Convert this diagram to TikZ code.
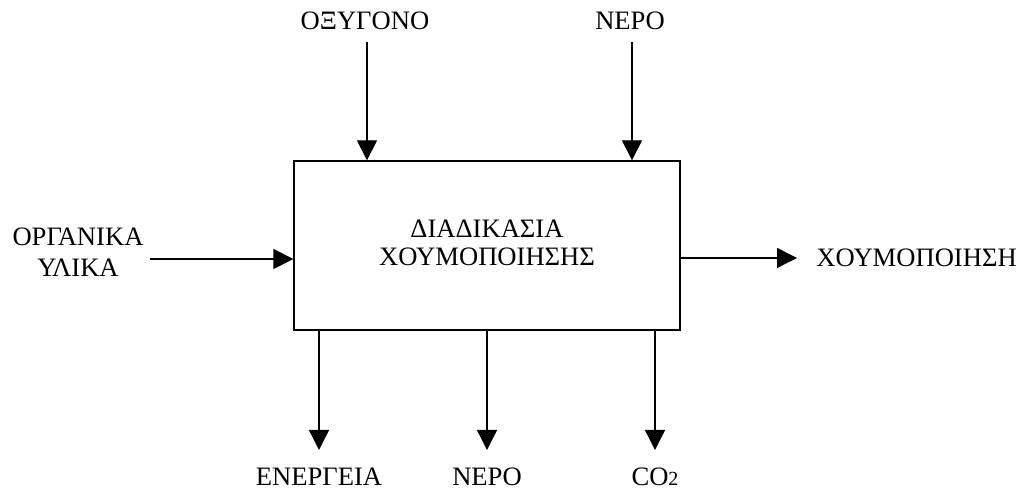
\documentclass[tikz,border=0pt]{standalone}
\usepackage{fontspec}
\setmainfont{Liberation Serif}
\usetikzlibrary{arrows.meta}

\begin{document}
\begin{tikzpicture}[
        x=0.5pt, y=-0.5pt,
        process/.style={draw,line width=0.65pt,minimum width=193pt,minimum height=84.5pt,inner sep=0pt,align=center,font=\fontsize{13.3}{15.5}\selectfont},
        tag/.style={inner sep=0pt,align=center,font=\fontsize{13.3}{15.5}\selectfont},
        flow/.style={line width=0.65pt,-{Triangle[length=10pt,width=10pt]}}
    ]
        \useasboundingbox (0,0) rectangle (1025,490);

        \node [process] (box) at (487,245.5) {\raisebox{-6pt}{\begin{tabular}{@{}c@{}}ΔΙΑΔΙΚΑΣΙΑ\\[-1.5pt]ΧΟΥΜΟΠΟΙΗΣΗΣ\end{tabular}}};

        % inputs
        \node [tag] (oxy)     at (365,21)  {ΟΞΥΓΟΝΟ};
        \node [tag] (waterin) at (630,21)  {ΝΕΡΟ};
        \node [tag] (organic) at (78,252)  {ΟΡΓΑΝΙΚΑ\\ΥΛΙΚΑ};

        \coordinate (oxyin)   at (367,42);
        \coordinate (waterin top) at (632,42);
        \coordinate (orgin)   at (150,259);

        \draw [flow] (oxyin) -- (oxyin |- box.north);
        \draw [flow] (waterin top) -- (waterin top |- box.north);
        \draw [flow] (orgin) -- (box.west |- orgin);

        % outputs
        \node [tag,anchor=west] (compost) at (816,258) {ΧΟΥΜΟΠΟΙΗΣΗ};
        \coordinate (compout) at (797,258);
        \draw [flow] (box.east |- compout) -- (compout);

        \foreach \x/\name/\txt in {319/energy/ΕΝΕΡΓΕΙΑ,487/waterout/ΝΕΡΟ,655/co2/{CO{\fontsize{10}{10}\selectfont 2}}}
        {
            \node [tag] (\name) at (\x,477) {\txt};
            \coordinate (\name end) at (\x,450);
            \draw [flow] (box.south -| \name end) -- (\name end);
        }
    \end{tikzpicture}
\end{document}
